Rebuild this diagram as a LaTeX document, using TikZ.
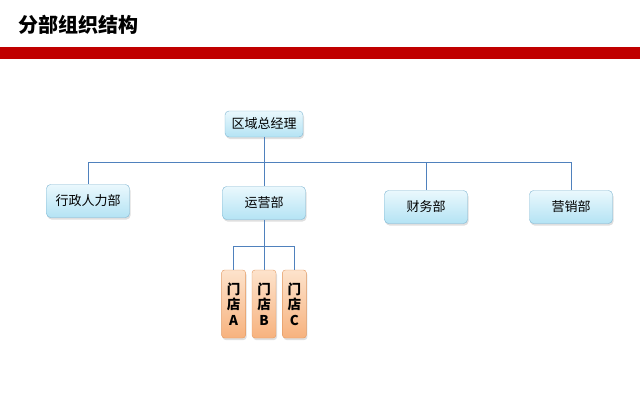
\documentclass[tikz,border=0pt]{standalone}
\usepackage{fontspec}
\setmainfont{Noto Sans CJK SC}
\usetikzlibrary{positioning,shadows}
\definecolor{Red}{HTML}{C00000}
\definecolor{Line}{HTML}{4F81BD}
\definecolor{BoxTop}{HTML}{EAF8FD}
\definecolor{BoxBot}{HTML}{B4E3F4}
\definecolor{BoxEdge}{HTML}{7FB6D2}
\definecolor{ShopTop}{HTML}{FDE3CC}
\definecolor{ShopBot}{HTML}{F7B27E}
\definecolor{ShopEdge}{HTML}{E39A63}

\begin{document}
\begin{tikzpicture}[
    x=1pt,y=-1pt,
    dept/.style={rounded corners=4pt,draw=BoxEdge,top color=BoxTop,bottom color=BoxBot,
      minimum width=83pt,minimum height=33pt,font=\fontsize{13}{15}\selectfont,
      drop shadow={opacity=0.25,shadow xshift=1pt,shadow yshift=-2pt}},
    shop/.style={rounded corners=3pt,draw=ShopEdge,top color=ShopTop,bottom color=ShopBot,
      minimum width=24pt,minimum height=68pt,align=center,
      font=\fontsize{13.5}{15.5}\selectfont\bfseries,
      drop shadow={opacity=0.25,shadow xshift=1pt,shadow yshift=-2pt}},
    link/.style={Line,line width=0.9pt}
  ]
    \useasboundingbox (0,0) rectangle (640,418);
    % header
    \node[anchor=west,font=\fontsize{20}{24}\selectfont\bfseries] (title) at (15,25) {分部组织结构};
    \fill[Red] (0,47) rectangle (640,59);
    % boxes
    \node[dept,minimum width=78pt,minimum height=26pt] (gm) at (264,124) {区域总经理};
    \node[dept] (hr) at (88,201) {行政人力部};
    \node[dept] (ops) at (264,203) {运营部};
    \node[dept] (fin) at (426,207) {财务部};
    \node[dept] (mkt) at (571,207) {营销部};
    \node[shop] (shopB) at (264,304) {门\\店\\B};
    \node[shop,left=6pt of shopB] (shopA) {门\\店\\A};
    \node[shop,right=6pt of shopB] (shopC) {门\\店\\C};
    % connectors
    \coordinate (bus) at (264,162);
    \coordinate (shopbus) at (264,246);
    \draw[link] (gm) -- (bus);
    \draw[link] (bus) -| (hr);
    \draw[link] (bus) -- (ops);
    \draw[link] (bus) -| (fin);
    \draw[link] (bus) -| (mkt);
    \draw[link] (ops) -- (shopbus);
    \draw[link] (shopbus) -| (shopA);
    \draw[link] (shopbus) -- (shopB);
    \draw[link] (shopbus) -| (shopC);
  \end{tikzpicture}
\end{document}
